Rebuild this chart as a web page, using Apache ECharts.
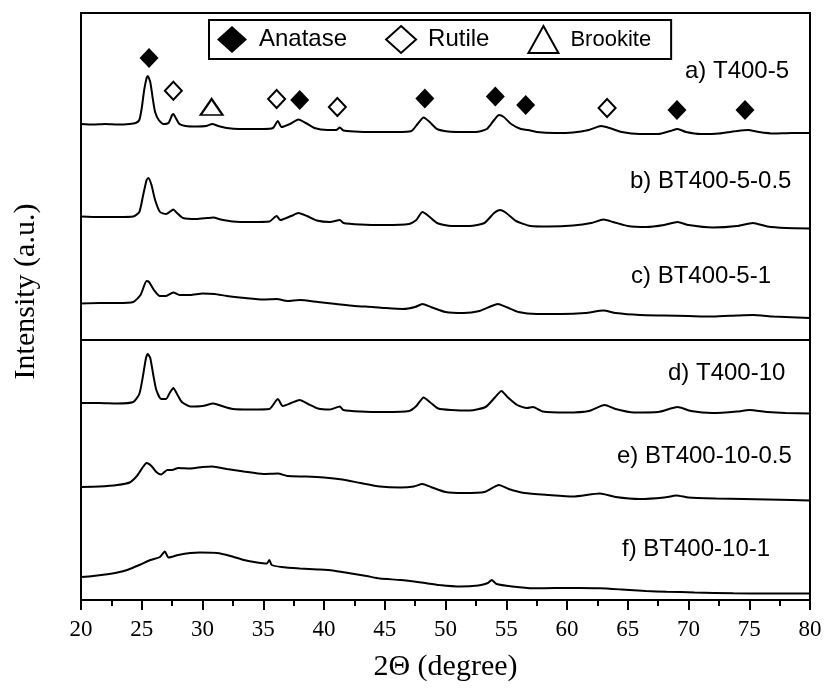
<!DOCTYPE html>
<html>
<head>
<meta charset="utf-8">
<script src="https://cdn.jsdelivr.net/npm/echarts@6/dist/echarts.min.js"></script>
<style>
  html, body { margin: 0; padding: 0; background: #fff; }
  #chart { width: 827px; height: 695px; }
</style>
</head>
<body>
<div id="chart"></div>
<script>
// 2θ (degree), intensity (a.u., curves stacked with offsets)
const curveA = [[20,476],[21,475.5],[22,476],[23,475.5],[24,476],[24.5,477],[24.8,480],[25.0,492],[25.2,510],[25.4,522],[25.5,524],[25.7,518],[25.9,502],[26.1,488],[26.4,480],[26.8,476],[27.2,477],[27.5,485],[27.6,486],[27.8,482],[28.1,476],[28.6,474],[29.5,473.5],[30.3,474],[30.8,476],[31.3,474],[32,472],[33,471],[34,471],[35,471],[35.8,472],[36.2,479],[36.5,473],[37.2,476],[37.9,480.5],[38.5,477],[39.2,472],[40.3,470],[41.0,470],[41.3,472.5],[41.6,469.5],[42.5,468.5],[44,468],[46,468],[47.2,469],[47.7,476],[48.2,482.5],[48.7,478],[49.3,471],[50.2,468.5],[51.5,468],[52.5,468],[53.4,471],[54.0,480],[54.4,485],[54.8,483],[55.4,476],[56.2,471],[56.8,470],[57.5,468],[59,467],[60.5,467.5],[61.8,470],[62.8,474],[63.5,472],[64.5,468],[66,466],[67.5,466],[68.5,469],[69.1,471],[69.8,468],[71,466],[72.5,466.5],[74,469],[74.9,470],[75.8,468],[77,466.5],[78.5,467],[80,467]];
const curveB = [[20,383.5],[21.5,383],[23,383],[24.3,383.5],[24.8,388],[25.1,404],[25.4,420],[25.55,422],[25.8,415],[26.1,400],[26.5,388],[27.0,386],[27.4,389],[27.6,390.5],[27.9,387],[28.4,382],[29.5,381],[30.4,382],[30.9,382.5],[31.5,380.5],[32.5,378.5],[34,378],[35.5,378.5],[36.1,384],[36.4,380],[37.3,384],[37.9,387],[38.6,384],[39.4,379.5],[40.5,378],[41.3,380],[41.6,377],[43,375.5],[45,375],[47,376],[47.6,380],[48.1,388],[48.6,384],[49.3,377],[50.5,374],[52,374],[53.2,377],[54.0,387],[54.5,390],[55.0,387],[55.8,379],[57,374],[58.5,373.5],[60.5,374.5],[62,377],[63,380.5],[63.8,378],[65,374],[66.5,373],[68,375],[69.1,378],[70,375],[72,372.5],[74,374],[75.3,377],[76.5,373.5],[78,372],[80,371.5]];
const curveC = [[20,296.5],[21.5,297],[23,297],[24.3,298],[24.9,305],[25.4,319],[25.6,318],[26.0,310],[26.5,304],[27.0,304],[27.6,307.5],[28.1,305],[29,305],[30,306.5],[31,306],[32,304],[33.5,302],[35,300.5],[36.1,301],[37,299],[38,300],[39.5,298],[41,296],[42.5,294],[44,293],[45,292],[46.5,291],[47.5,293],[48.1,296],[48.8,293],[50,288],[51.5,287],[52.8,289],[53.8,294],[54.3,296],[55,293],[56,288],[57.5,286],[59.5,286],[61.5,287],[63,289.5],[64,287],[66,285],[68,284.5],[70,284],[72,283.5],[74,284.5],[75.3,285],[77,283.5],[80,282]];
const curveD = [[20,197],[21.5,197],[23,196.5],[24.3,198],[24.8,206],[25.1,224],[25.35,242],[25.5,246],[25.7,242],[25.95,225],[26.2,210],[26.6,201],[27.0,201],[27.3,207],[27.6,212],[27.9,206],[28.3,198],[29,193.5],[30,194],[30.9,196.5],[31.6,194],[32.5,191],[34,190.5],[35.5,191],[36.2,201],[36.6,194],[37.3,197],[38.0,200],[38.7,196],[39.5,191.5],[40.5,190.5],[41.3,193.5],[41.6,190],[43,188.5],[45,188],[47,189],[47.6,194],[48.2,202.5],[48.7,198],[49.4,191.5],[50.5,190],[52,189.5],[53.3,193],[54.1,203],[54.6,209],[55.1,203],[55.9,195],[56.7,192],[57.2,193],[58,188.5],[60,187.5],[61.8,189],[63.1,195],[64,191],[65.5,187.5],[67.5,188],[69.1,193],[70.2,189],[72,187],[74,188.5],[75.0,190],[76.5,188],[78,187],[80,186.5]];
const curveE = [[20,113],[21.5,113.5],[23,115],[24,117.5],[24.6,124],[25.1,133],[25.4,137],[25.8,134],[26.2,128],[26.6,125.5],[27.1,130],[27.5,130],[28,132],[29,131.5],[30,133],[30.8,133.5],[32,131],[33.4,128.5],[35,126],[36.2,126.5],[37,124],[38.5,123.5],[40,122.5],[41.5,120.5],[43,117],[44.6,113.5],[46.3,112.5],[47.4,113.5],[48.1,116],[48.8,113],[50,108],[51.5,107],[53.2,108],[54.4,115],[55.2,111],[56.5,107],[58.5,105],[60.5,103.5],[62.7,106.5],[64,103],[66,101],[68,102.5],[69,104.5],[70,102.5],[72.3,101.5],[74.5,101],[76.5,100.5],[78.5,100],[80,99.5]];
const curveF = [[20,23],[21,24],[22,25.5],[23,27.5],[23.8,30],[24.8,35],[25.7,40],[26.5,43],[26.9,48.5],[27.2,42.5],[28,45],[29,47],[29.8,47.5],[31.2,47],[32.3,44],[33.4,40],[34.5,37.5],[35.3,36.5],[35.5,40],[35.7,35],[36.5,33],[38,31.5],[39.5,30.5],[40.7,29.5],[42,27],[43.5,24],[44.6,21.5],[46.3,20],[48,17.5],[49.5,15],[51.2,13.5],[52.7,14.5],[53.5,17],[53.8,20],[54.2,16],[55.5,13.5],[57.2,11.7],[59,12],[61,12],[62.7,11.7],[64.5,10.5],[66.5,9],[68.2,8.3],[70.5,7.5],[73.7,6.7],[76.5,6.5],[78.5,6.5],[80,6.5]];

const curveNames = ["a) T400-5", "b) BT400-5-0.5", "c) BT400-5-1", "d) T400-10", "e) BT400-10-0.5", "f) BT400-10-1"];

// phase markers above curve a
const anatasePeaks = [[25.6,542],[38,500],[48.3,501.5],[54.1,503.5],[56.6,495],[69.05,490],[74.65,490]];
const rutilePeaks = [[27.6,509.3],[36.1,501],[41.1,493],[63.3,492]];
const brookitePeaks = [[30.75,493]];

const xTicks = { min: 20, max: 80, interval: 5 };
const yRange = { min: 0, max: 587 };
const panelSplit = 260;

const serif = '"Liberation Serif", "Times New Roman", serif';
const sans = '"Liberation Sans", Arial, sans-serif';

const chart = echarts.init(document.getElementById("chart"), null, { renderer: "canvas" });

const curves = [curveA, curveB, curveC, curveD, curveE, curveF];
const labelSpots = [
  { left: 685, top: 59 },
  { left: 630, top: 169 },
  { left: 631, top: 264 },
  { left: 668, top: 361 },
  { left: 617, top: 444 },
  { left: 622, top: 537 }
];

const lineSeries = curves.map((data, i) => ({
  name: curveNames[i],
  type: "line",
  data: data,
  showSymbol: false,
  smooth: 0.2,
  silent: true,
  lineStyle: { color: "#000", width: 2 },
  z: 3,
  markLine: i === 0 ? {
    silent: true,
    symbol: ["none", "none"],
    label: { show: false },
    lineStyle: { color: "#000", width: 2, type: "solid" },
    data: [{ yAxis: panelSplit }]
  } : undefined
}));

const hollow = { color: "#fff", borderColor: "#000", borderWidth: 2, opacity: 1 };

chart.setOption({
  animation: false,
  backgroundColor: "#fff",
  grid: {
    left: 81, right: 17, top: 13, bottom: 95,
    show: true, borderColor: "#000", borderWidth: 2
  },
  legend: {
    left: 209, top: 20,
    padding: [5, 20, 5, 8],
    borderColor: "#000", borderWidth: 2,
    itemWidth: 30, itemHeight: 27, itemGap: 38,
    selectedMode: false,
    textStyle: { fontFamily: sans, fontSize: 24, color: "#000", padding: [0, 0, 0, 7] },
    data: [
      { name: "Anatase" },
      { name: "Rutile" },
      { name: "Brookite", textStyle: { fontSize: 22 } }
    ]
  },
  xAxis: {
    type: "value",
    min: xTicks.min, max: xTicks.max, interval: xTicks.interval,
    name: "2\u0398 (degree)",
    nameLocation: "middle",
    nameGap: 52,
    nameTextStyle: { fontFamily: serif, fontSize: 30, color: "#000" },
    axisLine: { lineStyle: { color: "#000", width: 2 } },
    axisTick: { length: 10, lineStyle: { color: "#000", width: 2 } },
    minorTick: { show: true, splitNumber: 2, length: 6, lineStyle: { color: "#000", width: 2 } },
    axisLabel: { fontFamily: serif, fontSize: 23, color: "#000", margin: 18 },
    splitLine: { show: false }
  },
  yAxis: {
    type: "value",
    min: yRange.min, max: yRange.max,
    name: "Intensity (a.u.)",
    nameLocation: "middle",
    nameGap: 40,
    nameTextStyle: { fontFamily: serif, fontSize: 30, color: "#000", padding: [0, 0, 0, 30] },
    axisLine: { show: false },
    axisTick: { show: false },
    axisLabel: { show: false },
    splitLine: { show: false }
  },
  graphic: curveNames.map((txt, i) => ({
    type: "text",
    left: labelSpots[i].left,
    top: labelSpots[i].top,
    silent: true,
    style: { text: txt, font: "24px " + sans, fill: "#000" }
  })),
  series: lineSeries.concat([
    {
      name: "Anatase", type: "scatter", data: anatasePeaks,
      symbol: "diamond", symbolSize: [19, 20],
      itemStyle: { color: "#000", opacity: 1 }, z: 5
    },
    {
      name: "Rutile", type: "scatter", data: rutilePeaks,
      symbol: "diamond", symbolSize: [17, 18],
      itemStyle: hollow, z: 5
    },
    {
      name: "Brookite", type: "scatter", data: brookitePeaks,
      symbol: "triangle", symbolSize: [22, 16],
      itemStyle: hollow, z: 5
    }
  ])
});
</script>
</body>
</html>
